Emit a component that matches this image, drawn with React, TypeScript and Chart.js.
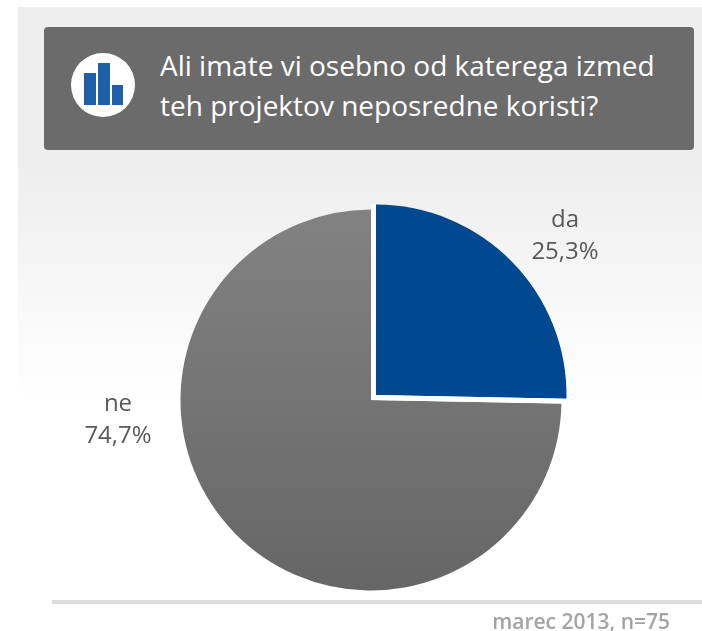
import React, { useEffect, useRef } from "react";
import { Chart, registerables } from "chart.js";

Chart.register(...registerables);

const categories = ["da", "ne"];
const percentages = [25.3, 74.7];
const sliceLabels = ["25,3%", "74,7%"];
const titleLines = ["Ali imate vi osebno od katerega izmed", "teh projektov neposredne koristi?"];
const footnote = "marec 2013, n=75";
const iconBars = [
  { x: 84, y: 73, w: 12, h: 32 },
  { x: 98, y: 63, w: 12, h: 42 },
  { x: 112, y: 85, w: 11, h: 20 },
];

const FONT = '"Open Sans", sans-serif';

const labelPlugin = {
  id: "sliceLabels",
  afterDatasetsDraw(chart: any) {
    const { ctx } = chart;
    const blue = chart.getDatasetMeta(0).data[0];
    const mid = (blue.startAngle + blue.endAngle) / 2;
    const cx = blue.x + Math.cos(mid) * 3.5;
    const cy = blue.y + Math.sin(mid) * 3.5;
    ctx.save();
    ctx.strokeStyle = "#ffffff";
    ctx.lineWidth = 5;
    ctx.lineCap = "square";
    ctx.beginPath();
    ctx.moveTo(cx + Math.cos(blue.startAngle) * blue.outerRadius, cy + Math.sin(blue.startAngle) * blue.outerRadius);
    ctx.lineTo(cx, cy);
    ctx.lineTo(cx + Math.cos(blue.endAngle) * blue.outerRadius, cy + Math.sin(blue.endAngle) * blue.outerRadius);
    ctx.stroke();
    ctx.restore();

    const anchors = [
      { x: 565, y: 220 },
      { x: 118, y: 404 },
    ];
    ctx.save();
    ctx.font = `24px ${FONT}`;
    ctx.fillStyle = "#595959";
    ctx.textAlign = "center";
    ctx.textBaseline = "middle";
    categories.forEach((c, i) => {
      ctx.fillText(c, anchors[i].x, anchors[i].y);
      ctx.fillText(sliceLabels[i], anchors[i].x, anchors[i].y + 32);
    });
    ctx.restore();
  },
};

export default function App() {
  const ref = useRef<HTMLCanvasElement>(null);
  useEffect(() => {
    const canvas = ref.current!;
    const ctx = canvas.getContext("2d")!;
    const grey = ctx.createLinearGradient(0, 210, 0, 591);
    grey.addColorStop(0, "#828282");
    grey.addColorStop(1, "#666666");
    const chart = new Chart(canvas, {
      type: "pie",
      data: {
        labels: categories,
        datasets: [
          {
            data: percentages,
            backgroundColor: ["#004990", grey],
            borderWidth: 0,
            offset: [28, 0],
          },
        ],
      },
      options: {
        animation: false,
        responsive: false,
        layout: { padding: { left: 166.5, right: 126.5, top: 195.5, bottom: 26.5 } },
        plugins: { legend: { display: false }, tooltip: { enabled: false } },
      },
      plugins: [labelPlugin],
    } as any);
    return () => chart.destroy();
  }, []);

  return (
    <div style={{ position: "absolute", left: 0, top: 0, width: 702, height: 631, background: "#fff", overflow: "hidden", fontFamily: FONT }}>
      <div style={{ position: "absolute", left: 18, top: 7, width: 684, height: 393, background: "linear-gradient(#eeeeee 0%, #eeeeee 42%, #ffffff 100%)" }} />
      <div style={{ position: "absolute", left: 44, top: 27, width: 650, height: 123, background: "#6b6b6b", borderRadius: 4 }} />
      <svg style={{ position: "absolute", left: 0, top: 0 }} width={702} height={160}>
        <circle cx={103} cy={85} r={32} fill="#ffffff" />
        {iconBars.map((b, i) => (
          <rect key={i} x={b.x} y={b.y} width={b.w} height={b.h} fill="#1f5ea8" />
        ))}
      </svg>
      <div style={{ position: "absolute", left: 160, top: 45, color: "#ffffff", fontSize: 28, lineHeight: "40px", whiteSpace: "nowrap" }}>
        {titleLines.map((t) => (
          <div key={t}>{t}</div>
        ))}
      </div>
      <canvas ref={ref} width={702} height={631} style={{ position: "absolute", left: 0, top: 0, display: "block" }} />
      <div style={{ position: "absolute", left: 52, top: 600, width: 650, height: 4, background: "#dedede" }} />
      <div style={{ position: "absolute", right: 32, top: 607, color: "#a3a3a3", fontSize: 21, fontWeight: 600, whiteSpace: "nowrap" }}>{footnote}</div>
    </div>
  );
}
